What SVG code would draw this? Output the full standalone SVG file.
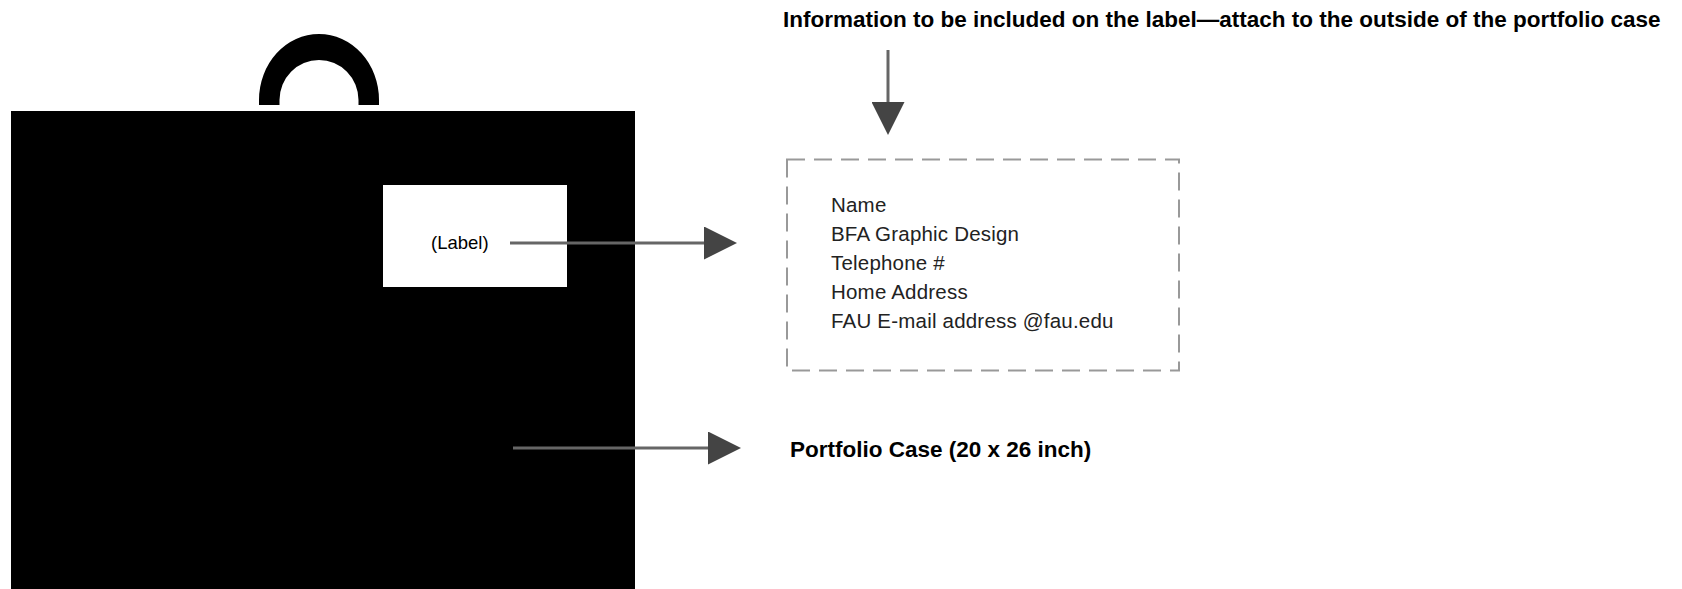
<svg xmlns="http://www.w3.org/2000/svg" width="1682" height="589" viewBox="0 0 1682 589">
  <style>
    .bold { font-family: "Liberation Sans", Arial, sans-serif; font-weight: bold; font-size: 22.5px; fill: #000; }
    .info { font-family: "Liberation Sans", Arial, sans-serif; font-size: 20.5px; fill: #222; letter-spacing: 0.2px; }
    .lbl { font-family: "Liberation Sans", Arial, sans-serif; font-size: 18.5px; fill: #000; }
    .conn { stroke: #666; stroke-width: 3; fill: none; }
  </style>
  <defs>
    <marker id="head" viewBox="0 0 33 33" markerWidth="33" markerHeight="33" refX="2" refY="16.5" orient="auto" markerUnits="userSpaceOnUse">
      <path d="M0,0 L33,16.5 L0,33 Z" fill="#444"/>
    </marker>
  </defs>
  <rect width="1682" height="589" fill="#fff"/>

  <g id="portfolio-case">
    <path d="M259 105 V100 A60 66 0 0 1 379 100 V105 H358.5 V100 A39.5 40 0 0 0 279.5 100 V105 Z" fill="#000"/>
    <rect x="11" y="111" width="624" height="490" fill="#000"/>
  </g>

  <g id="label-card">
    <rect x="383" y="185" width="184" height="102" fill="#fff"/>
    <text class="lbl" x="431" y="249">(Label)</text>
  </g>

  <g id="label-info">
    <rect x="787" y="159.5" width="392" height="211" fill="none" stroke="#999" stroke-width="2" stroke-dasharray="18 9"/>
    <text class="info" x="831" y="212">Name</text>
    <text class="info" x="831" y="241">BFA Graphic Design</text>
    <text class="info" x="831" y="270">Telephone #</text>
    <text class="info" x="831" y="299">Home Address</text>
    <text class="info" x="831" y="328">FAU E-mail address @fau.edu</text>
  </g>

  <g id="title">
    <text class="bold" x="783" y="27">Information to be included on the label—attach to the outside of the portfolio case</text>
  </g>

  <g id="case-caption">
    <text class="bold" x="790" y="457">Portfolio Case (20 x 26 inch)</text>
  </g>

  <g id="connectors">
    <line class="conn" x1="510" y1="243" x2="706" y2="243" marker-end="url(#head)"/>
    <line class="conn" x1="513" y1="448" x2="710" y2="448" marker-end="url(#head)"/>
    <line class="conn" x1="888" y1="50" x2="888" y2="104" marker-end="url(#head)"/>
  </g>
</svg>
